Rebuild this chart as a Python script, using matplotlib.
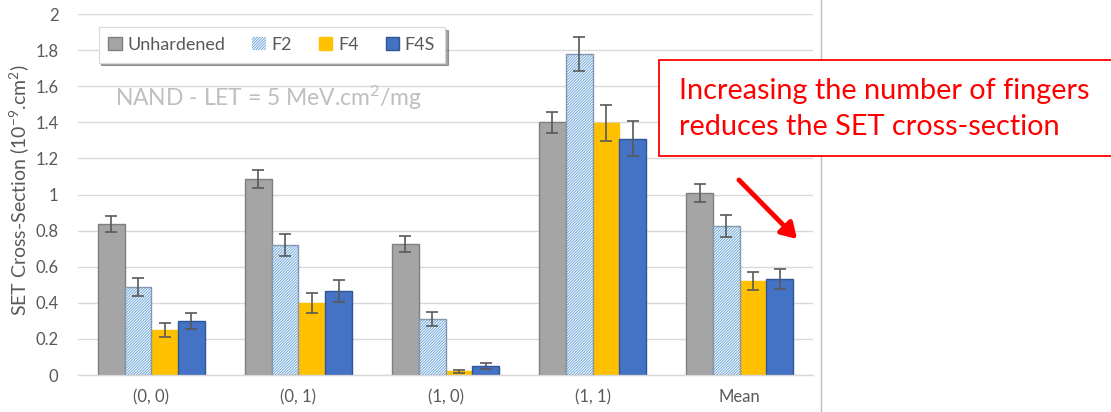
import matplotlib
matplotlib.use("Agg")
import matplotlib.pyplot as plt
import numpy as np
from matplotlib.patches import Rectangle, FancyArrowPatch

plt.rcParams['font.family'] = ['Lato', 'DejaVu Sans']
plt.rcParams['mathtext.fontset'] = 'custom'
plt.rcParams['mathtext.rm'] = 'Lato'
plt.rcParams['mathtext.it'] = 'Lato'
plt.rcParams['mathtext.default'] = 'rm'
plt.rcParams['hatch.linewidth'] = 0.7

categories = ['(0, 0)', '(0, 1)', '(1, 0)', '(1, 1)', 'Mean']
series = ['Unhardened', 'F2', 'F4', 'F4S']
unhardened = [0.835, 1.085, 0.725, 1.40, 1.01]
f2 = [0.49, 0.72, 0.31, 1.78, 0.825]
f4 = [0.25, 0.40, 0.02, 1.395, 0.52]
f4s = [0.30, 0.465, 0.05, 1.31, 0.53]
err_unh = [0.045, 0.05, 0.045, 0.058, 0.05]
err_f2 = [0.05, 0.06, 0.04, 0.094, 0.06]
err_f4 = [0.04, 0.055, 0.01, 0.10, 0.05]
err_f4s = [0.045, 0.06, 0.017, 0.097, 0.055]
yticks = [0, 0.2, 0.4, 0.6, 0.8, 1, 1.2, 1.4, 1.6, 1.8, 2]
ytick_labels = ['0', '0.2', '0.4', '0.6', '0.8', '1', '1.2', '1.4', '1.6', '1.8', '2']

values = [unhardened, f2, f4, f4s]
errors = [err_unh, err_f2, err_f4, err_f4s]
faces = ['#A5A5A5', 'white', '#FFC000', '#4472C4']
edges = ['#7F7F7F', '#8497B0', '#FFC000', '#2F5597']
hatches = [None, '////////////', None, None]

fig = plt.figure(figsize=(11.11, 4.12), dpi=100)
ax = fig.add_axes([0.070, 0.0898, 0.662, 0.876])

x = np.arange(len(categories))
w = 0.182
tick_gray = '#595959'
for i, (vals, errs) in enumerate(zip(values, errors)):
    pos = x + (i - 1.5) * w
    if hatches[i]:
        ax.bar(pos, vals, w, color='white', edgecolor='#6FA8DC', hatch=hatches[i],
               linewidth=0, zorder=2, label=series[i])
        ax.bar(pos, vals, w, color='none', edgecolor=edges[i], linewidth=1.0, zorder=3)
    else:
        ax.bar(pos, vals, w, color=faces[i], edgecolor=edges[i], linewidth=1.0,
               zorder=2, label=series[i])
    ax.errorbar(pos, vals, yerr=errs, fmt='none', ecolor='#595959', elinewidth=1.2,
                capsize=4, capthick=1.2, zorder=4)

ax.set_xlim(-0.5, len(categories) - 0.5)
ax.set_ylim(0, 2)
ax.set_yticks(yticks)
ax.set_yticklabels(ytick_labels)
ax.set_xticks(x)
ax.set_xticklabels(categories)
ax.tick_params(axis='both', length=0, colors=tick_gray, labelsize=12)
ax.tick_params(axis='y', pad=14)
ax.tick_params(axis='x', pad=10)
ax.yaxis.grid(True, color='#D9D9D9', linewidth=1.0, zorder=0)
ax.set_axisbelow(True)
for s in ['top', 'right', 'left']:
    ax.spines[s].set_visible(False)
ax.spines['bottom'].set_color('#D9D9D9')
ax.spines['bottom'].set_linewidth(1.0)
ax.set_ylabel('SET Cross-Section (10$^{-9}$.cm$^{2}$)', color=tick_gray, fontsize=14)
ax.yaxis.set_label_coords(-0.064, 0.512)

leg = ax.legend(loc='upper left', bbox_to_anchor=(0.016, 0.99), ncol=4, frameon=True,
                fontsize=13, handlelength=0.75, handleheight=0.75, handletextpad=0.3,
                columnspacing=1.5, borderpad=0.55, fancybox=False, shadow=True)
leg.get_frame().set_edgecolor('#D9D9D9')
leg.get_frame().set_linewidth(0.8)
for t in leg.get_texts():
    t.set_color(tick_gray)

ax.text(0.05, 0.745, 'NAND - LET = 5 MeV.cm$^{2}$/mg', transform=ax.transAxes,
        color='#BFBFBF', fontsize=16.5)

# vertical chart border line
fig.add_artist(plt.Line2D([821 / 1111, 821 / 1111], [0, 1], color='#BFBFBF', linewidth=1.0))

# annotation box
fig.add_artist(Rectangle((659 / 1111, (412 - 156) / 412), 460 / 1111, 96 / 412,
                         transform=fig.transFigure, facecolor='white', edgecolor='#FF0000',
                         linewidth=1.3, zorder=5))
fig.text(679 / 1111, (412 - 109) / 412, 'Increasing the number of fingers\nreduces the SET cross-section',
         color='#FF0000', fontsize=20.8, va='center', ha='left', linespacing=1.45, zorder=6)

fig.add_artist(FancyArrowPatch((737 / 1111, (412 - 178) / 412),
                               (799 / 1111, (412 - 241) / 412),
                               transform=fig.transFigure,
                               arrowstyle='-|>,head_length=9,head_width=5.5',
                               color='#FF0000', linewidth=3.5, zorder=6))

fig.savefig('out.png', dpi=100)
